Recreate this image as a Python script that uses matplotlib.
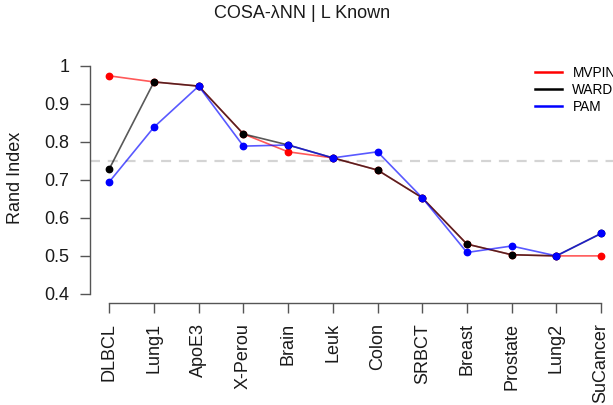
import matplotlib
matplotlib.use("Agg")
import matplotlib.pyplot as plt
from matplotlib.lines import Line2D
import numpy as np

plt.rcParams['font.family'] = ['Liberation Sans', 'DejaVu Sans']

# datasets along the x axis
datasets = ['DLBCL', 'Lung1', 'ApoE3', 'X-Perou', 'Brain', 'Leuk', 'Colon',
            'SRBCT', 'Breast', 'Prostate', 'Lung2', 'SuCancer']

# rand index per method
mvpin = [0.974, 0.958, 0.947, 0.821, 0.774, 0.758, 0.726, 0.653, 0.531, 0.503, 0.500, 0.500]
ward  = [0.729, 0.958, 0.947, 0.821, 0.792, 0.758, 0.726, 0.653, 0.531, 0.503, 0.500, 0.559]
pam   = [0.695, 0.839, 0.947, 0.789, 0.792, 0.758, 0.774, 0.653, 0.509, 0.526, 0.500, 0.559]

methods = ['MVPIN', 'WARD', 'PAM']
colors = ['#ff0000', '#000000', '#0000ff']
ref_line = 0.75

fig = plt.figure(figsize=(6.13, 4.05), dpi=100)
ax = fig.add_axes([0.1462, 0.2519, 0.8664, 0.6077])

x = np.arange(1, len(datasets) + 1)

ax.axhline(ref_line, color='#d4d4d4', lw=1.6, dashes=(4.5, 3.5), zorder=1)

for vals, col in zip([mvpin, ward, pam], colors):
    ax.plot(x, vals, color=col, lw=1.2, alpha=0.65, zorder=2)
    ax.plot(x, vals, 'o', color=col, ms=4.6, mec=col, zorder=3)

ax.set_xlim(0.56, 12.44)
ax.set_ylim(0.376, 1.024)

for s in ['top', 'right']:
    ax.spines[s].set_visible(False)
ax.spines['left'].set_bounds(0.4, 1.0)
ax.spines['bottom'].set_bounds(1, 12)
for s in ['left', 'bottom']:
    ax.spines[s].set_color('#555555')
    ax.spines[s].set_linewidth(1.0)

ax.set_xticks(x)
ax.set_xticklabels(datasets, rotation=90)
yt = [0.4, 0.5, 0.6, 0.7, 0.8, 0.9, 1.0]
ax.set_yticks(yt)
ax.set_yticklabels(['0.4', '0.5', '0.6', '0.7', '0.8', '0.9', '1'])
ax.tick_params(axis='both', direction='out', length=7.5, width=1.0,
               color='#555555', labelsize=13, labelcolor='#1a1a1a', pad=7)

fig.text(16 / 613, 1 - 178 / 405, 'Rand Index', rotation=90,
         ha='center', va='center', fontsize=13, color='#1a1a1a')
fig.text(302 / 613, 1 - 13.5 / 405, 'COSA-\u03bbNN | L Known',
         ha='center', va='center', fontsize=13, color='#1a1a1a')

handles = [Line2D([], [], color=c, lw=1.8) for c in colors]
ax.legend(handles, methods, loc='upper left',
          bbox_to_anchor=(535 / 613, 1 - 66 / 405),
          bbox_transform=fig.transFigure, frameon=False, fontsize=9.8,
          handlelength=1.95, handletextpad=0.8, labelspacing=0.22,
          borderpad=0, borderaxespad=0)

fig.savefig('out.png', dpi=100)
